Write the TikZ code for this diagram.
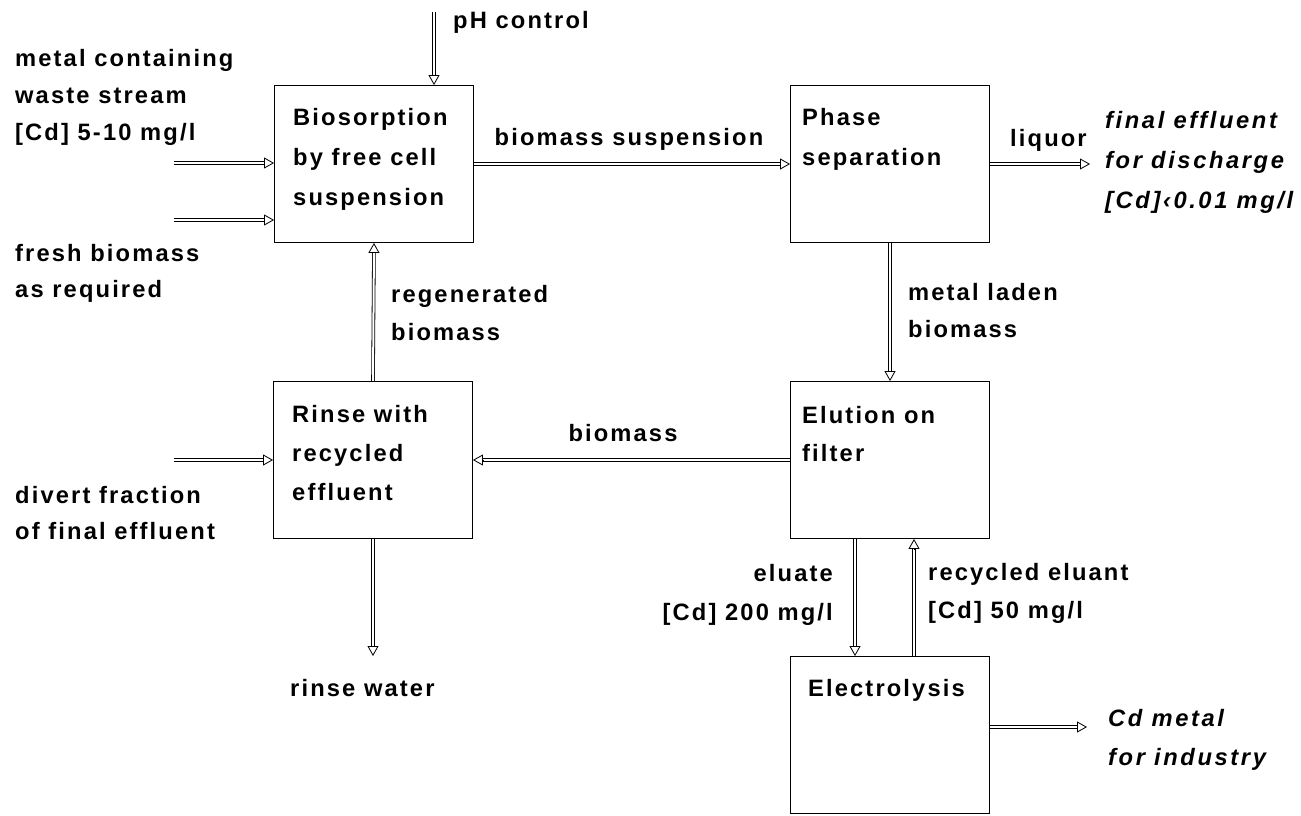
\documentclass[tikz,border=0pt]{standalone}
\usepackage{fontspec}
\setmainfont{Liberation Sans}[LetterSpace=9]
\newfontfamily\slfont{Liberation Sans}[LetterSpace=11]
\usetikzlibrary{arrows.meta,calc,backgrounds}

\tikzset{
  box/.style={draw, line width=0.9pt, minimum width=199pt, minimum height=157pt, inner sep=0pt},
  txt/.style={anchor=mid west, inner sep=0pt, yshift=-5.5pt, font=\fontsize{23.7}{28}\selectfont\bfseries},
  txtr/.style={txt, anchor=mid east},
  txtc/.style={txt, anchor=mid},
  itxt/.style={txt, font=\fontsize{23.7}{28}\selectfont\slfont\bfseries\itshape},
  shaft/.style={double, double distance=2pt, line width=0.8pt, shorten >=10pt},
  head/.style={line width=0.8pt, -{Triangle[open, length=10pt, width=11pt]}}
}

% hollow process-flow arrow: double shaft with an open triangular head
\newcommand\flow[2]{%
  \draw[shaft] (#1) -- (#2);
  \draw[head] ($(#2)!10pt!(#1)$) -- (#2);
}

\begin{document}
\begin{tikzpicture}[x=1pt, y=-1pt]
\useasboundingbox (0,0) rectangle (1301,815);

% process units
\node[box] (bio)     at (374,164) {};
\node[box] (phase)   at (890,164) {};
\node[box] (rinse)   at (373,460) {};
\node[box] (elution) at (890,460) {};
\node[box] (electro) at (890,735) {};

% unit captions
\node[txt] (bio1) at (293,117) {Biosorption};
\node[txt] (bio2) at (293,157) {by free cell};
\node[txt] (bio3) at (293,197) {suspension};
\node[txt] (ph1) at (802,117) {Phase};
\node[txt] (ph2) at (802,157) {separation};
\node[txt] (ri1) at (292,414) {Rinse with};
\node[txt] (ri2) at (292,453) {recycled};
\node[txt] (ri3) at (292,492) {effluent};
\node[txt] (el1) at (802,415) {Elution on};
\node[txt] (el2) at (802,453) {filter};
\node[txt] (ec1) at (808,688) {Electrolysis};

% free ends of the feed and product streams
\coordinate (phTop)   at (434,12);
\coordinate (wasteIn) at (174,163);
\coordinate (freshIn) at (174,220);
\coordinate (divIn)   at (174,460);
\coordinate (liqOut)  at (1090,164);
\coordinate (rinseOut) at (373,656);
\coordinate (cdOut)   at (1087,727);
\coordinate (eluS)  at ([xshift=-35pt]elution.south);
\coordinate (eleN1) at (eluS |- electro.north);
\coordinate (eleN2) at ([xshift=24pt]electro.north);
\coordinate (eluS2) at (eleN2 |- elution.south);
\coordinate (phIn)  at (phTop |- bio.north);
\coordinate (wasteT) at (wasteIn -| bio.west);
\coordinate (freshT) at (freshIn -| bio.west);
\coordinate (cdS)   at (cdOut -| electro.east);

\begin{scope}[on background layer]
  \flow{phTop}{phIn}
  \flow{wasteIn}{wasteT}
  \flow{freshIn}{freshT}
  \flow{bio.east}{phase.west}
  \flow{phase.east}{liqOut}
  \flow{phase.south}{elution.north}
  \flow{elution.west}{rinse.east}
  \flow{rinse.north}{bio.south}
  \flow{divIn}{rinse.west}
  \flow{rinse.south}{rinseOut}
  \flow{eluS}{eleN1}
  \flow{eleN2}{eluS2}
  \flow{cdS}{cdOut}
\end{scope}

% stream labels
\node[txt] (lph) at (453,20) {pH control};
\node[txt] (lw1) at (15,58) {metal containing};
\node[txt] (lw2) at (15,95) {waste stream};
\node[txt] (lw3) at (15,132) {[Cd] 5-10 mg/l};
\node[txt] (lf1) at (15,253) {fresh biomass};
\node[txt] (lf2) at (15,289) {as required};
\node[txt] (ld1) at (15,495) {divert fraction};
\node[txt] (ld2) at (15,531) {of final effluent};
\node[txtc] (lbs) at (629,137) {biomass suspension};
\node[txt] (lliq) at (1010,138) {liquor};
\node[itxt] (lfe1) at (1105,120) {final effluent};
\node[itxt] (lfe2) at (1105,160) {for discharge};
\node[itxt] (lfe3) at (1105,200) {[Cd]‹0.01 mg/l};
\node[txt] (lrg1) at (391,294) {regenerated};
\node[txt] (lrg2) at (391,332) {biomass};
\node[txt] (lml1) at (908,292) {metal laden};
\node[txt] (lml2) at (908,329) {biomass};
\node[txtc] (lbm) at (623,433) {biomass};
\node[txtr] (lel1) at (833,573) {eluate};
\node[txtr] (lel2) at (833,612) {[Cd] 200 mg/l};
\node[txt] (lre1) at (928,572) {recycled eluant};
\node[txt] (lre2) at (928,610) {[Cd] 50 mg/l};
\node[txt] (lrw) at (290,688) {rinse water};
\node[itxt] (lcd1) at (1108,718) {Cd metal};
\node[itxt] (lcd2) at (1108,757) {for industry};
\end{tikzpicture}
\end{document}
